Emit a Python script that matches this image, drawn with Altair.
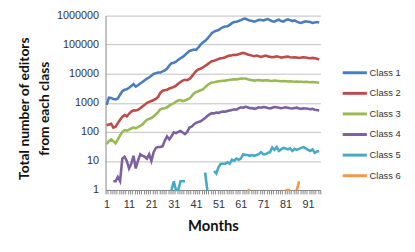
import altair as alt
import pandas as pd

N = None
months = list(range(1, 97))

class1 = [850, 1500, 1450, 1350, 1300, 1400, 1900, 2500, 2800, 2900, 3300, 3800, 4400, 3600, 4000, 4600,
          5200, 6000, 6800, 7500, 8500, 9800, 10500, 11000, 11000, 12000, 13000, 15000, 19000, 23000,
          24000, 26000, 30000, 34000, 38000, 44000, 52000, 60000, 64000, 68000, 66000, 80000, 100000,
          120000, 135000, 160000, 200000, 250000, 280000, 300000, 320000, 360000, 400000, 420000, 430000,
          480000, 550000, 600000, 620000, 650000, 700000, 760000, 790000, 720000, 680000, 650000, 620000,
          660000, 720000, 700000, 680000, 720000, 760000, 700000, 640000, 620000, 680000, 720000, 650000,
          620000, 700000, 740000, 700000, 650000, 680000, 620000, 580000, 560000, 600000, 640000, 620000,
          600000, 560000, 580000, 600000, 580000]
class2 = [170, 180, 190, 140, 150, 200, 260, 330, 380, 340, 420, 500, 550, 540, 570, 650, 750, 850, 1000,
          1080, 1150, 1250, 1350, 1600, 2200, 2600, 2700, 2800, 3100, 3300, 3450, 3900, 4500, 5200, 5800,
          6200, 6000, 6600, 8000, 10000, 12500, 14000, 15000, 16500, 18500, 21000, 24000, 27000, 28000,
          30000, 32000, 34000, 35000, 37000, 40000, 42000, 43000, 45000, 44000, 47000, 50000, 52000, 50000,
          46000, 44000, 42000, 40000, 42000, 40000, 38000, 40000, 42000, 40000, 38000, 37000, 38000, 40000,
          38000, 36000, 37000, 38000, 39000, 37000, 36000, 37000, 36000, 35000, 36000, 37000, 36000, 35000,
          34000, 35000, 34000, 33000, 31000]
class3 = [38, 48, 55, 48, 40, 55, 75, 100, 115, 110, 120, 130, 140, 135, 145, 160, 180, 220, 260, 280, 300,
          340, 400, 480, 600, 640, 650, 700, 800, 900, 950, 1100, 1200, 1250, 1150, 1200, 1300, 1400, 1700,
          2100, 2350, 2500, 2700, 2900, 3400, 4000, 4600, 5000, 5100, 5300, 5500, 5600, 5700, 5800, 6000,
          6200, 6300, 6500, 6400, 6600, 6800, 6900, 6900, 6500, 6200, 6000, 5800, 6000, 6100, 5900, 5800,
          6000, 5900, 5700, 5600, 5800, 5700, 5600, 5500, 5600, 5500, 5400, 5500, 5400, 5300, 5400, 5300,
          5300, 5200, 5300, 5200, 5100, 5200, 5100, 5000, 4900]
class4 = [N, N, N, 2, 2, 2.8, 2, 12, 14, 10, 5.5, 8, 15, 5.5, 10, 17, 15, 14, 12, 17, 10, 20, 28, 30, 30,
          32, 50, 70, 55, 70, 96, 90, 100, 108, 95, 84, 100, 140, 150, 180, 205, 220, 230, 260, 300, 350,
          400, 440, 430, 460, 450, 480, 500, 490, 520, 540, 560, 600, 580, 640, 700, 680, 730, 700, 650,
          660, 620, 650, 700, 680, 720, 700, 660, 640, 680, 720, 700, 680, 650, 670, 700, 680, 650, 640,
          660, 680, 640, 620, 650, 640, 620, 600, 620, 580, 560, 540]
class5 = [N] * 29 + [1, 2, 1, 1, 2, 2, 2] + [N] * 8 + [4, 1] + [N] * 2 + \
         [4.5, 3.7, 6, 8, 8, 8, 9, 8, 11, 10, 12, 11, 12, 17, 16, 16, 15, 16, 15, 16, 17, 20, 17, 17, 19,
          20, 29, 24, 30, 22, 25, 28, 27, 25, 27, 22, 26, 24, 26, 28, 30, 27, 24, 22, 25, 19, 21, 22]
class6 = [N] * 63 + [1, 1] + [N] * 15 + [1, 1, 1] + [N] * 2 + [1, 2] + [N] * 9

names = ["Class 1", "Class 2", "Class 3", "Class 4", "Class 5", "Class 6"]
colors = ["#4a7ebb", "#be4b48", "#98b954", "#7d60a0", "#46aac5", "#f79646"]
series = [class1, class2, class3, class4, class5, class6]

rows = []
for name, vals in zip(names, series):
    for m, v in zip(months, vals):
        rows.append({"month": m, "value": v, "series": name})
df = pd.DataFrame(rows)

x_bounds = [m - 0.5 for m in months] + [months[-1] + 0.5]

chart = alt.Chart(df).mark_line(strokeWidth=2.6, invalid="break-paths-show-domains").encode(
    x=alt.X("month:Q",
            scale=alt.Scale(domain=[0.5, 96.5], nice=False, zero=False),
            axis=alt.Axis(values=x_bounds, grid=False, tickSize=4, tickColor="#868686",
                          domainColor="#868686", labelOffset=1.1,
                          labelExpr="(datum.value + 0.5) % 10 == 1 ? format(datum.value + 0.5, 'd') : ''",
                          labelFont="Liberation Sans", labelFontSize=11, labelColor="#333333",
                          labelPadding=5, labelFlush=False, labelOverlap=False,
                          title="Months", titleFont="Lato", titleFontSize=15, titleFontWeight="bold",
                          titleColor="#111111", titleY=41, titleBaseline="alphabetic")),
    y=alt.Y("value:Q",
            scale=alt.Scale(type="log", domain=[1, 1000000], nice=False),
            axis=alt.Axis(values=[1, 10, 100, 1000, 10000, 100000, 1000000], format="d",
                          ticks=False, gridColor="#c0c0c0", domainColor="#868686",
                          labelFont="Liberation Sans", labelFontSize=11, labelColor="#333333",
                          labelPadding=7,
                          title=["Total number of editors", "from each class"],
                          titleFont="Lato", titleFontSize=14, titleFontWeight="bold",
                          titleColor="#111111", titleAngle=-90, titleBaseline="top",
                          titleX=-89, titleY=94, titleLineHeight=20)),
    color=alt.Color("series:N",
                    scale=alt.Scale(domain=names, range=colors),
                    legend=alt.Legend(title=None, orient="none", legendX=239, legendY=44,
                                      symbolType="stroke", symbolSize=600, symbolStrokeWidth=3,
                                      labelFont="Liberation Sans", labelFontSize=9.5,
                                      labelColor="#333333", labelOffset=1, rowPadding=0.9,
                                      padding=0)),
).properties(
    width=218, height=177,
    autosize=alt.AutoSizeParams(type="none"),
    padding={"left": 99, "top": 6, "right": 88, "bottom": 46},
).configure_view(stroke=None)

chart.save("out.html", embed_options={"renderer": "svg", "actions": False})
